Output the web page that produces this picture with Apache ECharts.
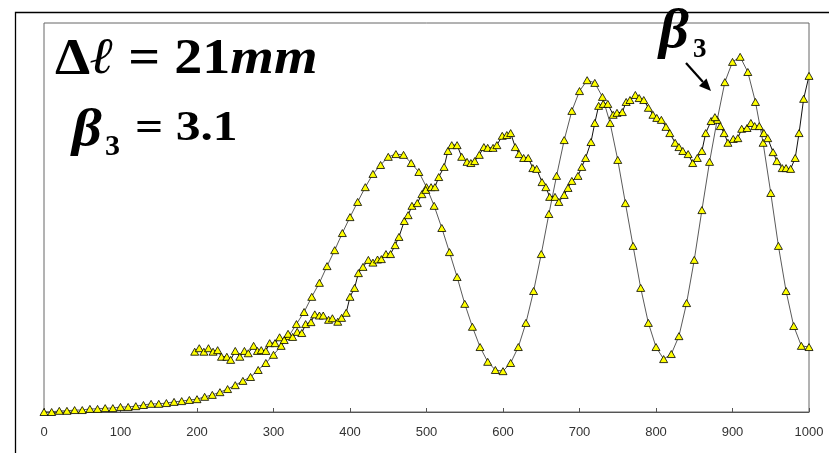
<!DOCTYPE html>
<html>
<head>
<meta charset="utf-8">
<script src="https://cdn.jsdelivr.net/npm/echarts@6/dist/echarts.min.js"></script>
<style>html,body{margin:0;padding:0;background:#fff;}#c{width:829px;height:453px;}</style>
</head>
<body>
<div id="c"></div>
<script>
// x tick labels
var xTicks = [0, 100, 200, 300, 400, 500, 600, 700, 800, 900, 1000];

// Series A (step 10)
var xA = [0,10,20,30,40,50,60,70,80,90,100,110,120,130,140,150,160,170,180,190,200,210,220,230,240,250,260,270,280,290,300,310,320,330,340,350,360,370,380,390,400,410,420,430,440,450,460,470,480,490,500,510,520,530,540,550,560,570,580,590,600,610,620,630,640,650,660,670,680,690,700,710,720,730,740,750,760,770,780,790,800,810,820,830,840,850,860,870,880,890,900,910,920,930,940,950,960,970,980,990,1000];
var yA = [0,0,0.3,0.3,0.5,0.5,0.8,0.8,1.0,1.0,1.3,1.3,1.5,1.8,2.1,2.1,2.3,2.6,2.8,3.1,3.3,3.9,4.4,5.1,5.9,6.9,8.0,9.0,10.8,12.6,14.7,17.0,19.5,22.6,25.7,29.6,33.2,37.5,41.6,46.0,50.1,54.0,57.8,61.2,63.5,65.6,66.3,66.1,64.0,61.7,57.8,53.0,47.3,41.1,34.7,27.8,21.9,16.7,12.9,10.8,10.5,12.6,16.7,22.9,31.1,40.6,50.9,60.7,69.9,77.4,82.5,85.3,84.6,81.0,74.3,64.8,53.7,42.7,31.9,22.9,16.7,13.6,14.9,19.5,28.0,39.1,51.9,64.3,75.1,84.8,90.0,91.3,87.4,79.7,69.2,56.3,42.7,31.1,22.1,17.0,16.7];

// Series B (dense, starts near 200)
var xB = [197,203,209,215,221,227,232,239,244,250,256,262,267,274,279,284,290,295,302,308,314,319,325,331,337,342,349,354,360,365,372,377,384,389,395,400,406,411,417,424,430,436,441,447,453,459,464,471,476,481,488,494,499,506,511,516,523,528,533,540,546,553,558,563,569,575,580,587,592,599,605,610,616,621,627,633,639,644,651,656,661,668,673,680,685,690,698,703,708,715,720,725,731,737,744,749,756,761,766,773,778,784,790,796,801,807,813,818,825,830,835,842,848,854,860,865,872,877,884,889,894,901,907,912,919,924,929,935,941,946,953,958,965,970,976,982,987,993,1000];
var yB = [15.5,16.4,15.5,16.4,15.5,15.9,14.2,14.2,13.4,15.7,14.2,15.7,15.1,17.0,15.7,15.9,15.7,17.7,17.7,19.2,18.5,20.1,19.3,20.6,20.3,22.6,23.1,25.1,24.8,24.8,23.7,24.1,23.2,24.2,25.5,29.6,31.9,35.7,37.3,39.1,38.4,39.2,39.3,40.6,40.6,42.9,45.0,49.1,50.6,53.0,53.7,56.0,57.1,57.8,57.8,60.4,63.0,67.1,68.6,68.6,65.6,64.3,64.0,64.5,66.1,68.1,67.9,67.9,68.6,71.0,71.2,71.7,68.1,66.3,65.3,65.3,62.7,62.5,59.1,57.8,55.3,55.3,54.0,55.8,57.6,59.4,60.7,63.0,65.3,69.4,74.3,78.7,79.2,79.2,76.4,76.9,77.1,79.7,80.2,81.5,80.7,80.2,78.2,76.4,75.6,75.1,73.3,71.7,69.2,68.1,67.1,66.3,64.0,65.3,67.1,71.7,74.8,75.8,73.5,71.7,69.2,70.2,70.4,72.8,73.0,74.3,73.5,73.5,71.7,70.4,66.8,64.5,62.7,62.7,62.5,65.3,71.7,80.5,86.4];

function pairs(xs, ys) {
  var out = [];
  for (var i = 0; i < xs.length && i < ys.length; i++) out.push([xs[i], ys[i]]);
  return out;
}

var chart = echarts.init(document.getElementById('c'), null, {renderer: 'canvas'});
var serif = '"Liberation Serif"';
var markerStyle = {color: '#ffff00', borderColor: '#000', borderWidth: 0.8};

function txt(x, y, s, size, italic, sx) {
  return {type: 'text', x: x, y: y, scaleX: sx || 1, style: {
    text: s, fontFamily: 'Liberation Serif', fontSize: size, fontWeight: 'bold',
    fontStyle: italic ? 'italic' : 'normal', fill: '#000', verticalAlign: 'middle'
  }};
}

chart.setOption({
  animation: false,
  backgroundColor: '#fff',
  grid: {left: 44, right: 20, top: 23, bottom: 41, show: true, borderColor: '#666', borderWidth: 1},
  xAxis: {
    type: 'value', min: 0, max: 1000, interval: 100,
    axisLine: {show: true, lineStyle: {color: '#555', width: 1}},
    axisTick: {show: true, inside: true, length: 4, lineStyle: {color: '#555'}},
    axisLabel: {
      color: '#333', fontSize: 13, margin: 14,
      fontFamily: '"Liberation Sans", Arial, sans-serif',
      formatter: function (v) { return xTicks.indexOf(v) >= 0 ? String(v) : ''; }
    },
    splitLine: {show: false}
  },
  yAxis: {
    type: 'value', min: 0, max: 100,
    axisLine: {show: false}, axisTick: {show: false}, axisLabel: {show: false}, splitLine: {show: false}
  },
  series: [
    {
      type: 'line', data: pairs(xA, yA), showAllSymbol: true,
      symbol: 'triangle', symbolSize: [8, 7],
      lineStyle: {color: '#5a5a5a', width: 1}, itemStyle: markerStyle
    },
    {
      type: 'line', data: pairs(xB, yB), showAllSymbol: true,
      symbol: 'triangle', symbolSize: [8, 7],
      lineStyle: {color: '#111', width: 1}, itemStyle: markerStyle
    }
  ],
  graphic: [
    {type: 'polyline', silent: true, shape: {points: [[15.5, 453], [15.5, 12.5], [829, 12.5]]}, style: {stroke: '#000', lineWidth: 1.3, fill: null}},
    {type: 'text', x: 55, y: 60, scaleX: 1.1, style: {
      text: '{b|Δ}{i|ℓ}{b| = 21}{i|mm}', verticalAlign: 'middle',
      rich: {
        b: {fontFamily: 'Liberation Serif', fontWeight: 'bold', fontSize: 51, fill: '#000'},
        i: {fontFamily: 'Liberation Serif', fontWeight: 'bold', fontStyle: 'italic', fontSize: 51, fill: '#000'}
      }
    }},
    txt(72, 132, 'β', 52, true, 1.12),
    txt(105, 147, '3', 30, false, 1),
    txt(135, 129, '= 3.1', 42, false, 1.18),
    txt(659, 33, 'β', 54, true, 1.08),
    txt(693, 50, '3', 27, false, 1),
    {type: 'line', silent: true, shape: {x1: 686, y1: 63, x2: 703, y2: 82}, style: {stroke: '#000', lineWidth: 2.2}},
    {type: 'polygon', silent: true, shape: {points: [[711, 91], [699, 86], [706.5, 78.5]]}, style: {fill: '#000'}}
  ]
});
</script>
</body>
</html>
